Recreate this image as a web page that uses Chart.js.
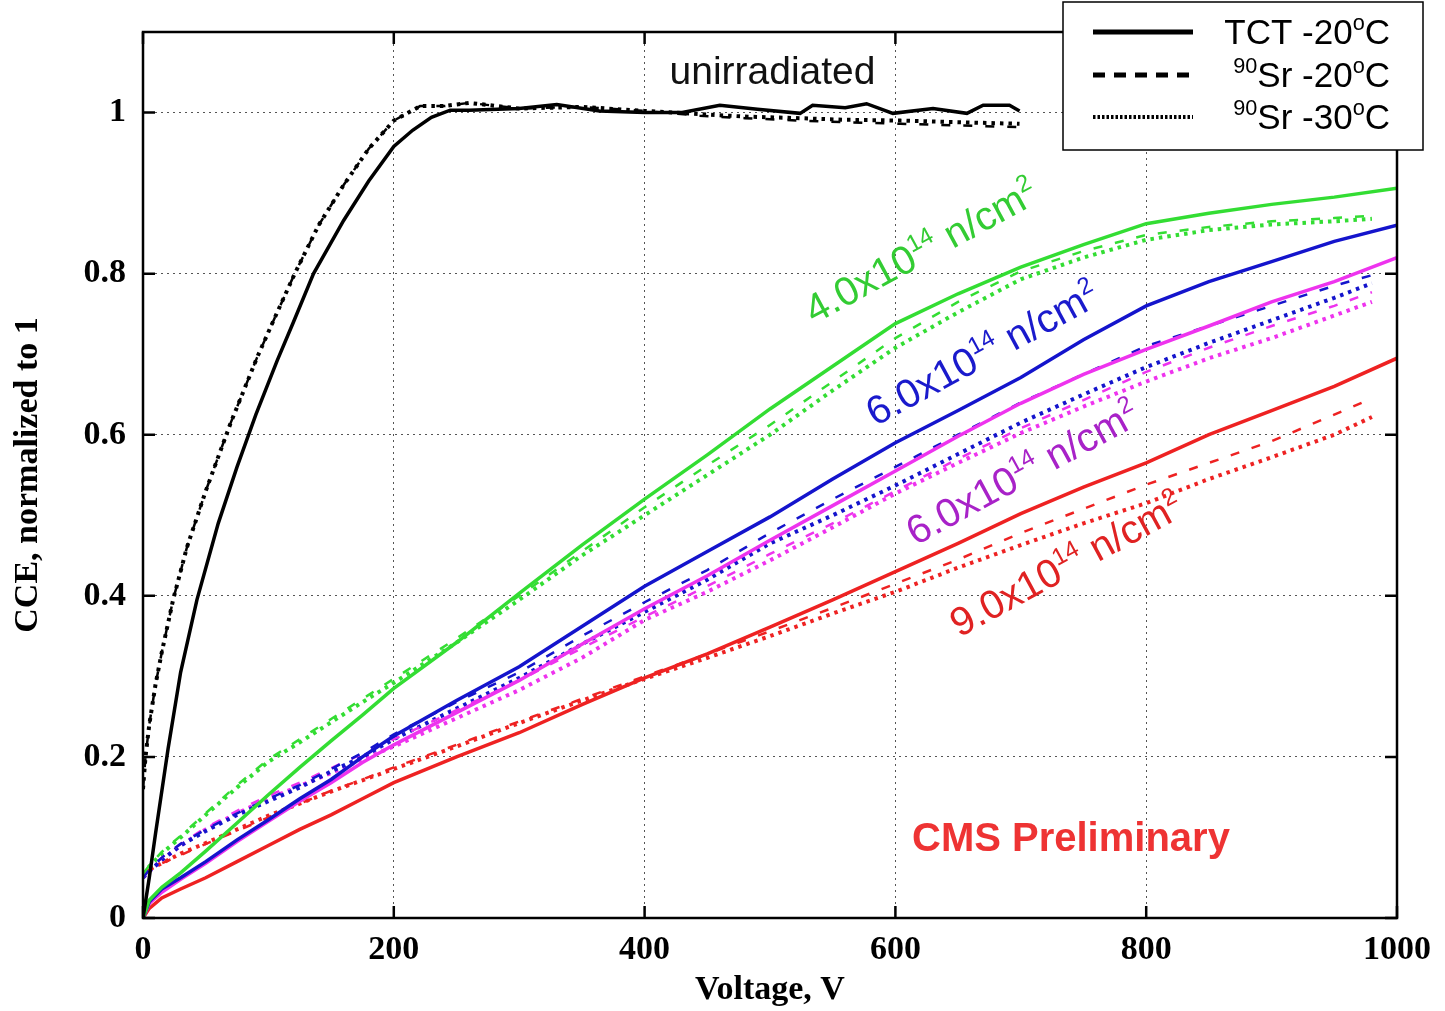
<!DOCTYPE html>
<html>
<head>
<meta charset="utf-8">
<title>CCE vs bias voltage</title>
<script src="https://cdn.jsdelivr.net/npm/chart.js@4.4.0/dist/chart.umd.min.js"></script>
<style>
  html, body { margin: 0; padding: 0; background: #fff; }
  canvas { display: block; }
</style>
</head>
<body>
<canvas id="cceChart" width="1445" height="1011"></canvas>
<script>
// ---------- measured CCE curves ----------
// irradiated sensors: TCT scans go to 1000 V, 90Sr scans stop at 980 V
const voltTCT = [0, 5, 15, 30, 50, 75, 100, 125, 150, 175, 200, 250, 300, 350, 400, 450, 500, 550, 600, 650, 700, 750, 800, 850, 900, 950, 1000];
const voltSr  = [0, 5, 15, 30, 50, 75, 100, 125, 150, 175, 200, 250, 300, 350, 400, 450, 500, 550, 600, 650, 700, 750, 800, 850, 900, 950, 980];

// 4.0e14 n/cm2
const cce4TCT  = [0, 0.022, 0.038, 0.056, 0.083, 0.118, 0.153, 0.187, 0.22, 0.252, 0.285, 0.342, 0.403, 0.463, 0.52, 0.575, 0.632, 0.685, 0.738, 0.775, 0.808, 0.836, 0.862, 0.875, 0.886, 0.895, 0.906];
const cce4Sr20 = [0.055, 0.065, 0.082, 0.102, 0.13, 0.165, 0.197, 0.222, 0.247, 0.272, 0.297, 0.347, 0.4, 0.455, 0.51, 0.562, 0.612, 0.666, 0.72, 0.765, 0.803, 0.828, 0.848, 0.858, 0.865, 0.869, 0.872];
const cce4Sr30 = [0.055, 0.064, 0.08, 0.1, 0.128, 0.162, 0.194, 0.218, 0.243, 0.268, 0.292, 0.342, 0.395, 0.45, 0.5, 0.55, 0.6, 0.655, 0.708, 0.752, 0.793, 0.82, 0.842, 0.854, 0.861, 0.865, 0.868];

// 6.0e14 n/cm2 (blue)
const cce6aTCT  = [0, 0.02, 0.036, 0.05, 0.07, 0.097, 0.122, 0.148, 0.172, 0.2, 0.226, 0.27, 0.312, 0.362, 0.412, 0.455, 0.498, 0.545, 0.59, 0.63, 0.671, 0.718, 0.76, 0.79, 0.815, 0.84, 0.86];
const cce6aSr20 = [0.05, 0.06, 0.075, 0.092, 0.11, 0.13, 0.148, 0.165, 0.185, 0.205, 0.228, 0.268, 0.305, 0.35, 0.392, 0.432, 0.478, 0.52, 0.56, 0.6, 0.64, 0.675, 0.71, 0.735, 0.76, 0.785, 0.798];
const cce6aSr30 = [0.05, 0.058, 0.072, 0.09, 0.108, 0.128, 0.145, 0.162, 0.182, 0.2, 0.222, 0.26, 0.298, 0.34, 0.38, 0.42, 0.465, 0.5, 0.537, 0.576, 0.615, 0.65, 0.684, 0.714, 0.742, 0.77, 0.788];

// 6.0e14 n/cm2 (magenta)
const cce6bTCT  = [0, 0.018, 0.032, 0.048, 0.068, 0.095, 0.12, 0.145, 0.168, 0.193, 0.215, 0.255, 0.295, 0.34, 0.384, 0.425, 0.469, 0.512, 0.555, 0.598, 0.639, 0.675, 0.706, 0.735, 0.765, 0.79, 0.82];
const cce6bSr20 = [0.05, 0.06, 0.075, 0.092, 0.112, 0.133, 0.152, 0.168, 0.186, 0.204, 0.222, 0.258, 0.295, 0.335, 0.374, 0.412, 0.452, 0.49, 0.53, 0.57, 0.608, 0.643, 0.678, 0.708, 0.735, 0.76, 0.777];
const cce6bSr30 = [0.05, 0.058, 0.072, 0.09, 0.11, 0.13, 0.148, 0.164, 0.18, 0.197, 0.213, 0.248, 0.283, 0.323, 0.37, 0.405, 0.444, 0.485, 0.527, 0.565, 0.602, 0.635, 0.666, 0.695, 0.72, 0.748, 0.765];

// 9.0e14 n/cm2
const cce9TCT  = [0, 0.012, 0.025, 0.036, 0.05, 0.07, 0.09, 0.11, 0.128, 0.148, 0.168, 0.2, 0.23, 0.265, 0.298, 0.328, 0.361, 0.395, 0.43, 0.465, 0.502, 0.535, 0.565, 0.6, 0.63, 0.66, 0.695];
const cce9Sr20 = [0.055, 0.06, 0.068, 0.078, 0.092, 0.108, 0.125, 0.142, 0.158, 0.172, 0.187, 0.215, 0.244, 0.272, 0.3, 0.328, 0.356, 0.385, 0.415, 0.445, 0.478, 0.508, 0.538, 0.565, 0.592, 0.625, 0.645];
const cce9Sr30 = [0.055, 0.06, 0.068, 0.08, 0.093, 0.11, 0.127, 0.142, 0.157, 0.171, 0.185, 0.213, 0.242, 0.27, 0.297, 0.323, 0.35, 0.378, 0.405, 0.435, 0.463, 0.49, 0.515, 0.545, 0.572, 0.6, 0.622];

// unirradiated sensor, up to 700 V
const voltUnirrTCT = [0, 2, 5, 10, 20, 30, 43, 60, 75, 90, 107, 120, 136, 160, 180, 200, 215, 230, 245, 260, 300, 330, 364, 400, 430, 460, 490, 524, 534, 560, 577, 598, 630, 657, 670, 691, 699];
const cceUnirrTCT  = [0, 0.02, 0.05, 0.105, 0.21, 0.305, 0.395, 0.49, 0.56, 0.625, 0.692, 0.74, 0.8, 0.866, 0.915, 0.958, 0.978, 0.994, 1.003, 1.003, 1.005, 1.01, 1.002, 1.0, 1.0, 1.009, 1.004, 0.999, 1.009, 1.006, 1.011, 0.999, 1.005, 0.999, 1.009, 1.009, 1.002];
const voltUnirrSr  = [0, 2, 5, 10, 15, 24, 35, 50, 70, 91, 105, 121, 140, 160, 180, 200, 221, 240, 260, 300, 350, 400, 444, 480, 524, 560, 604, 650, 699];
const cceUnirrSr20 = [0.16, 0.2, 0.24, 0.29, 0.33, 0.395, 0.46, 0.53, 0.615, 0.696, 0.745, 0.8, 0.86, 0.91, 0.955, 0.99, 1.008, 1.008, 1.012, 1.005, 1.007, 1.002, 0.996, 0.993, 0.99, 0.988, 0.986, 0.984, 0.982];
const cceUnirrSr30 = [0.16, 0.2, 0.24, 0.29, 0.33, 0.395, 0.46, 0.53, 0.615, 0.696, 0.745, 0.8, 0.86, 0.91, 0.955, 0.99, 1.008, 1.008, 1.012, 1.005, 1.007, 1.002, 0.998, 0.995, 0.993, 0.991, 0.99, 0.988, 0.986];

const xTicks = [0, 200, 400, 600, 800, 1000];
const yTicks = [0, 0.2, 0.4, 0.6, 0.8, 1.0];

// ---------- styles ----------
const SERIF = '"Liberation Serif", "Times New Roman", serif';
const SANS = '"Liberation Sans", Arial, sans-serif';

const colors = {
  black: '#000000',
  green: '#33dd33',
  blue: '#1414cc',
  magenta: '#ee33ee',
  red: '#ee2222'
};

const lineStyles = {
  solid:  { width: 3.5, dash: [] },
  dashed: { width: 2.5, dash: [9, 13] },
  dotted: { width: 4,   dash: [3.5, 5] }
};

function series(label, volts, cce, color, style) {
  const st = lineStyles[style];
  return {
    label: label,
    data: volts.map((v, i) => ({ x: v, y: cce[i] })),
    borderColor: color,
    borderWidth: st.width,
    borderDash: st.dash,
    borderCapStyle: 'butt',
    pointRadius: 0,
    fill: false,
    tension: 0
  };
}

// solid lines first so they end up on top
const datasets = [
  series('unirr TCT', voltUnirrTCT, cceUnirrTCT, colors.black, 'solid'),
  series('4e14 TCT', voltTCT, cce4TCT, colors.green, 'solid'),
  series('6e14 TCT', voltTCT, cce6aTCT, colors.blue, 'solid'),
  series('6e14b TCT', voltTCT, cce6bTCT, colors.magenta, 'solid'),
  series('9e14 TCT', voltTCT, cce9TCT, colors.red, 'solid'),
  series('unirr Sr20', voltUnirrSr, cceUnirrSr20, colors.black, 'dashed'),
  series('4e14 Sr20', voltSr, cce4Sr20, colors.green, 'dashed'),
  series('6e14 Sr20', voltSr, cce6aSr20, colors.blue, 'dashed'),
  series('6e14b Sr20', voltSr, cce6bSr20, colors.magenta, 'dashed'),
  series('9e14 Sr20', voltSr, cce9Sr20, colors.red, 'dashed'),
  series('unirr Sr30', voltUnirrSr, cceUnirrSr30, colors.black, 'dotted'),
  series('4e14 Sr30', voltSr, cce4Sr30, colors.green, 'dotted'),
  series('6e14 Sr30', voltSr, cce6aSr30, colors.blue, 'dotted'),
  series('6e14b Sr30', voltSr, cce6bSr30, colors.magenta, 'dotted'),
  series('9e14 Sr30', voltSr, cce9Sr30, colors.red, 'dotted')
];

// fluence labels, anchored at the start of the baseline (V, CCE)
const fluenceLabels = [
  { mant: '4.0x10', color: '#33cc33', v: 535, cce: 0.737 },
  { mant: '6.0x10', color: '#1a1acc', v: 584, cce: 0.61 },
  { mant: '6.0x10', color: '#a822c8', v: 616, cce: 0.462 },
  { mant: '9.0x10', color: '#e02222', v: 651, cce: 0.348 }
];

const legendRows = [
  { style: 'solid',  parts: [{ t: 'TCT -20' }, { t: 'o', sup: true }, { t: 'C' }] },
  { style: 'dashed', parts: [{ t: '90', sup: true }, { t: 'Sr -20' }, { t: 'o', sup: true }, { t: 'C' }] },
  { style: 'dotted', parts: [{ t: '90', sup: true }, { t: 'Sr -30' }, { t: 'o', sup: true }, { t: 'C' }] }
];

// text with superscripts, drawn piece by piece from the left
function drawRich(ctx, parts, x, y, size, family, weight, align, supScale) {
  const ss = supScale || 0.62;
  const fontFor = p => weight + ' ' + (p.sup ? size * ss : size) + 'px ' + family;
  let total = 0;
  parts.forEach(p => {
    ctx.font = fontFor(p);
    p.w = ctx.measureText(p.t).width;
    total += p.w;
  });
  let cx = align === 'right' ? x - total : (align === 'center' ? x - total / 2 : x);
  ctx.textAlign = 'left';
  parts.forEach(p => {
    ctx.font = fontFor(p);
    ctx.fillText(p.t, cx, p.sup ? y - size * 0.4 : y);
    cx += p.w;
  });
}

const decorations = {
  id: 'decorations',
  afterDraw(chart) {
    const ctx = chart.ctx;
    const a = chart.chartArea;
    const xs = chart.scales.x, ys = chart.scales.y;
    ctx.save();

    // frame
    ctx.strokeStyle = '#000';
    ctx.lineWidth = 2.5;
    ctx.setLineDash([]);
    ctx.strokeRect(a.left, a.top, a.right - a.left, a.bottom - a.top);

    // inward tick marks on all four sides
    const tl = 12;
    ctx.beginPath();
    yTicks.forEach(t => {
      const py = ys.getPixelForValue(t);
      ctx.moveTo(a.left, py); ctx.lineTo(a.left + tl, py);
      ctx.moveTo(a.right, py); ctx.lineTo(a.right - tl, py);
    });
    xTicks.forEach(t => {
      const px = xs.getPixelForValue(t);
      ctx.moveTo(px, a.bottom); ctx.lineTo(px, a.bottom - tl);
      ctx.moveTo(px, a.top); ctx.lineTo(px, a.top + tl);
    });
    ctx.stroke();

    ctx.textBaseline = 'alphabetic';

    // "unirradiated"
    ctx.fillStyle = '#111';
    ctx.font = '39px ' + SANS;
    ctx.textAlign = 'center';
    ctx.fillText('unirradiated', xs.getPixelForValue(502), ys.getPixelForValue(1.036));

    // fluence labels along the curves
    fluenceLabels.forEach(l => {
      ctx.save();
      ctx.translate(xs.getPixelForValue(l.v), ys.getPixelForValue(l.cce));
      ctx.rotate(-28.5 * Math.PI / 180);
      ctx.fillStyle = l.color;
      drawRich(ctx, [{ t: l.mant }, { t: '14', sup: true }, { t: ' n/cm' }, { t: '2', sup: true }], 0, 0, 40, SANS, 'normal', 'left', 0.6);
      ctx.restore();
    });

    // CMS Preliminary
    ctx.fillStyle = '#ee3333';
    ctx.font = 'bold 40px ' + SANS;
    ctx.textAlign = 'center';
    ctx.fillText('CMS Preliminary', xs.getPixelForValue(740), ys.getPixelForValue(0.083));

    // legend box
    const lx = 1063, ly = 2, lw = 360, lh = 148;
    ctx.fillStyle = '#fff';
    ctx.fillRect(lx, ly, lw, lh);
    ctx.strokeStyle = '#000';
    ctx.lineWidth = 1.5;
    ctx.strokeRect(lx, ly, lw, lh);

    const rowY = [32, 75, 117];
    const sample = { solid: { w: 5, dash: [] }, dashed: { w: 5, dash: [12, 9] }, dotted: { w: 4, dash: [2.5, 2] } };
    legendRows.forEach((r, i) => {
      const s = sample[r.style];
      ctx.beginPath();
      ctx.lineWidth = s.w;
      ctx.setLineDash(s.dash);
      ctx.lineCap = 'butt';
      ctx.moveTo(1093, rowY[i]);
      ctx.lineTo(1193, rowY[i]);
      ctx.stroke();
      ctx.setLineDash([]);
      ctx.fillStyle = '#000';
      drawRich(ctx, r.parts, 1390, rowY[i] + 12, 35, SANS, 'normal', 'right', 0.62);
    });

    ctx.restore();
  }
};

new Chart(document.getElementById('cceChart'), {
  type: 'line',
  data: { datasets: datasets },
  options: {
    responsive: false,
    animation: false,
    devicePixelRatio: 1,
    layout: { padding: { left: 0, right: 48, top: 32, bottom: 0 } },
    plugins: {
      legend: { display: false },
      tooltip: { enabled: false }
    },
    scales: {
      x: {
        type: 'linear',
        min: 0,
        max: 1000,
        afterFit: s => { s.height = 93; s.paddingLeft = 0; s.paddingRight = 0; },
        afterBuildTicks: s => { s.ticks = xTicks.map(v => ({ value: v })); },
        grid: { color: '#555', lineWidth: 1, drawTicks: false },
        border: { display: false, dash: [2, 4] },
        ticks: {
          padding: 12,
          color: '#000',
          font: { family: SERIF, size: 34, weight: 'bold' },
          maxRotation: 0,
          callback: v => String(v)
        },
        title: {
          display: true,
          text: 'Voltage, V',
          color: '#000',
          font: { family: SERIF, size: 34, weight: 'bold' },
          padding: { top: 0, bottom: 0 }
        }
      },
      y: {
        type: 'linear',
        min: 0,
        max: 1.1,
        afterFit: s => { s.width = 143; s.paddingTop = 0; s.paddingBottom = 0; },
        afterBuildTicks: s => { s.ticks = yTicks.map(v => ({ value: v })); },
        grid: { color: '#555', lineWidth: 1, drawTicks: false },
        border: { display: false, dash: [2, 4] },
        ticks: {
          padding: 17,
          color: '#000',
          font: { family: SERIF, size: 34, weight: 'bold' },
          callback: v => String(+v.toFixed(1))
        },
        title: {
          display: true,
          text: 'CCE, normalized to 1',
          color: '#000',
          font: { family: SERIF, size: 34, weight: 'bold' },
          padding: { top: 8, bottom: 0 }
        }
      }
    }
  },
  plugins: [decorations]
});
</script>
</body>
</html>
